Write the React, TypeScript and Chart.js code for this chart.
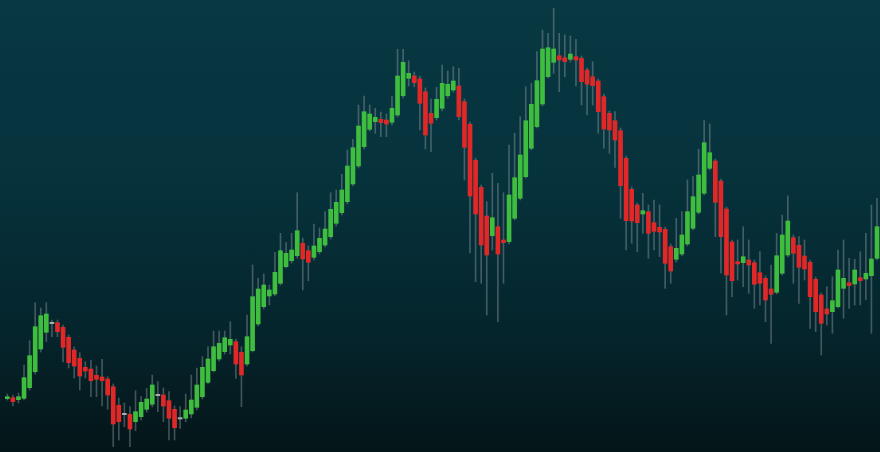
import React, { useEffect, useRef } from "react";
import { Chart, registerables } from "chart.js";

Chart.register(...registerables);

// OHLC candles (price units)
const opens = [
  53.3, 54.3, 52.3, 53.7, 64.3, 80.3, 103, 119.7, 129, 129.3,
  124.7, 114.7, 102, 93.7, 84.7, 83, 76.7, 75, 73, 65.3,
  46.7, 38, 37.7, 30.3, 35.3, 42.7, 47.7, 57, 57, 51.3,
  42.7, 33.7, 33.7, 38, 44.7, 55.3, 69.7, 81.3, 93, 100.3,
  107, 110.3, 99.7, 88, 101.3, 128, 145.3, 156, 158, 168.7,
  185.3, 191.3, 196.3, 208.7, 201.3, 194.7, 200.3, 207, 215.3, 228.7,
  239.3, 250.3, 268, 286, 305.3, 322.7, 330.3, 332.7, 332, 329.7,
  337, 356.3, 373.7, 376, 373, 360.3, 338.7, 334.3, 343.7, 356.3,
  362, 366, 350.3, 327.7, 291.7, 264.7, 236, 216.3, 225.3, 212,
  210.3, 233.7, 253.7, 275.3, 303.7, 325.3, 348, 375.3, 389.7, 396.3,
  394.3, 392.7, 395.3, 393.7, 382, 375.3, 371, 355.3, 338.7, 331.3,
  321.3, 293.7, 262.7, 247, 238, 240.3, 229.3, 224.7, 222.7, 205.3,
  192.7, 198, 208, 223.7, 239.7, 258.7, 283.7, 291, 271, 243,
  210, 190.3, 189.3, 192, 189.3, 179.3, 173.7, 163, 159.7, 178.7,
  197, 214.3, 206.7, 196, 189.7, 172.7, 157, 143, 140.3, 145.3,
  163.7, 169.3, 168, 174.3, 173, 176.3, 193.7,
];
const highs = [
  58, 57, 59, 87, 111.3, 149.3, 144, 149.3, 132, 132,
  127, 117, 105, 99.3, 90.3, 92, 86, 92.7, 75.3, 68,
  54, 49, 45.3, 61.3, 55.3, 63.7, 77, 70.3, 64, 60.3,
  46, 45.3, 58, 77, 84, 95.3, 105.3, 121, 121, 121,
  130.3, 113, 105.3, 137, 187, 173.7, 178, 167, 199.7, 218.7,
  209.3, 218.7, 259.3, 214, 206, 228, 224, 240.3, 259.3, 262,
  277.7, 302, 312.7, 347, 356, 347, 343.7, 340, 338, 356,
  402.7, 402.7, 391.3, 380, 376, 364, 353, 364.7, 387, 381,
  385.3, 383.7, 353, 330, 294, 267, 250.3, 278.7, 268.7, 259.3,
  307, 318.7, 335.3, 365.3, 368.7, 400.3, 422, 418.7, 443.7, 418.7,
  417, 416, 412.7, 396, 384, 390.3, 373, 358, 341, 340.3,
  324, 296, 265, 249, 258.7, 247, 252, 247, 225, 208,
  233.7, 240.3, 272, 275.3, 302.7, 331.3, 328, 293, 273, 245,
  212, 212, 225.3, 212, 192, 200.3, 176, 187, 218.7, 237,
  256, 217, 215.3, 212, 192, 175, 159, 165.3, 175.3, 202,
  212, 193.7, 192.7, 200.3, 218.7, 247, 253.7,
];
const lows = [
  52, 46, 49, 52, 62, 78, 100, 110.3, 115.3, 115.3,
  90, 84, 74, 62, 74, 55.3, 55.3, 46, 42.7, 5.3,
  12, 25.3, 5.3, 21.3, 32, 40, 45, 40.3, 30.3, 12,
  12, 23.7, 30.3, 34, 42, 53, 68, 80, 91, 98,
  98, 73.7, 45.3, 86, 100, 126, 143, 147, 156, 167,
  184, 189, 194, 162, 171.3, 192, 198, 205, 213, 226,
  237, 248, 266, 284, 303, 321, 318.7, 315.3, 315.3, 327,
  335, 354, 366, 365.3, 322, 303, 300.3, 332, 341, 354,
  360, 332, 272, 199, 170.3, 168.7, 137, 202, 130.3, 168.7,
  208, 232, 252, 274, 302, 324, 346, 374, 378.7, 360.3,
  375.3, 390, 366, 347, 337, 347, 318.7, 303.7, 298.7, 284.7,
  233.7, 202, 208.7, 200.3, 218.7, 193.7, 202, 195.3, 163.7, 168.7,
  190, 196, 206, 222, 238, 257, 282, 215.3, 179, 137,
  155.3, 172, 165.3, 158.7, 143.7, 147, 130.3, 108.7, 158, 177,
  195, 168.7, 148.7, 172, 123.7, 120.3, 97, 127, 118.7, 144,
  133.7, 143.7, 147, 147, 152, 118.7, 192,
];
const closes = [
  55.3, 50.3, 55.3, 74.3, 96.3, 125.3, 136.3, 138, 129, 120.3,
  104.7, 89.3, 86, 76, 81, 71.3, 72.7, 71.3, 57, 28,
  30.3, 38, 23, 40.3, 49.7, 53, 67, 57, 46, 33.7,
  24.3, 33.7, 42, 52, 67, 84.7, 93, 105.3, 108.7, 114.3,
  112.7, 88, 77, 115.3, 155.3, 163, 167, 162, 179.7, 201.3,
  198.7, 202, 221.3, 193, 189.7, 206, 213.7, 223, 242.7, 249.7,
  262, 286, 304.3, 326, 340.3, 338, 334.7, 329.3, 328, 343.7,
  376, 389.7, 378.7, 369.3, 348.7, 317, 328.7, 352.7, 368.7, 367.7,
  371, 335.3, 304.7, 256, 238, 207, 197, 234.3, 198, 209.3,
  257, 274.3, 297, 331.3, 347.7, 371.3, 403, 404.3, 403, 392,
  390.3, 398, 392, 370.3, 367.7, 366.3, 340.3, 323, 322, 312,
  266.3, 231.3, 231, 229.3, 241.3, 218.7, 220.7, 220, 188.7, 181,
  203.7, 217, 240.3, 255.3, 277, 309.3, 299.3, 249.7, 215.3, 177,
  171.3, 188, 195.3, 187, 167.7, 168.7, 152, 157.7, 196.3, 217,
  231, 198.7, 184.7, 183, 155.3, 140.3, 128.7, 138, 151.3, 182,
  173.7, 166.3, 182, 171.3, 178.7, 193, 225.3,
];

const UP = "#3fbd3f";
const DOWN = "#e12828";
const FLAT = "#a3aeb1";
const WICK = "rgba(150,162,168,0.42)";

export default function App() {
  const ref = useRef<HTMLCanvasElement | null>(null);

  useEffect(() => {
    document.body.style.margin = "0";
    const canvas = ref.current;
    if (!canvas) return;

    const bodies = opens.map((o, i) => {
      const c = closes[i];
      if (Math.abs(c - o) < 0.5) return { x: i, y: [o - 0.7, o + 0.7] };
      return { x: i, y: [o, c] };
    });
    const bodyColors = opens.map((o, i) => {
      const c = closes[i];
      if (Math.abs(c - o) < 0.5) return FLAT;
      return c > o ? UP : DOWN;
    });
    const wicks = lows.map((l, i) => ({ x: i, y: [l, highs[i]] }));

    const chart = new Chart(canvas, {
      type: "bar",
      data: {
        datasets: [
          {
            data: bodies as any,
            backgroundColor: bodyColors,
            borderWidth: 0,
            barThickness: 4,
            grouped: false,
          } as any,
          {
            data: wicks as any,
            backgroundColor: WICK,
            borderWidth: 0,
            barThickness: 1,
            grouped: false,
          } as any,
        ],
      },
      options: {
        animation: false,
        responsive: false,
        maintainAspectRatio: false,
        devicePixelRatio: 1,
        layout: { padding: 0 },
        plugins: {
          legend: { display: false },
          tooltip: { enabled: false },
        },
        scales: {
          x: {
            type: "linear",
            min: -1.31,
            max: 156.54,
            display: false,
            offset: false,
            grid: { display: false },
          },
          y: {
            min: 0,
            max: 452,
            display: false,
            grid: { display: false },
          },
        },
      },
    });
    return () => chart.destroy();
  }, []);

  return (
    <div
      style={{
        position: "fixed",
        left: 0,
        top: 0,
        width: 880,
        height: 452,
        background:
          "linear-gradient(to bottom, #083842 0%, #06323c 40%, #05242b 75%, #041518 100%)",
      }}
    >
      <canvas ref={ref} width={880} height={452} style={{ display: "block" }} />
    </div>
  );
}
